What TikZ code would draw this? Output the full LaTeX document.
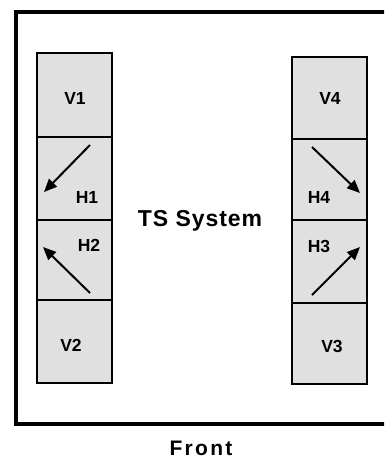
\documentclass[tikz,border=0pt]{standalone}
\usepackage{fontspec}
\setmainfont{Liberation Sans}
\usetikzlibrary{arrows.meta}
\definecolor{cellgray}{RGB}{224,224,224}
\begin{document}
\begin{tikzpicture}[x=1pt,y=-1pt,
  cell/.style={draw=black, line width=2.5pt, fill=cellgray, rectangle, inner sep=0pt, minimum width=75pt},
  lab/.style={font=\bfseries\fontsize{17.5}{20}\selectfont, inner sep=0pt, anchor=base},
  dirarrow/.style={line width=2pt, -{Triangle[length=13pt,width=11pt]}}]
\useasboundingbox (0,0) rectangle (384,459);
\clip (0,0) rectangle (384,459);
% outer frame (right side beyond the picture)
\draw[line width=4pt] (392,12) -| (16,424) -- (392,424);
% left column
\node[cell, minimum height=84pt] (v1) at (74.5,95) {};
\node[cell, minimum height=83pt] (h1) at (74.5,178.5) {};
\node[cell, minimum height=80pt] (h2) at (74.5,260) {};
\node[cell, minimum height=83pt] (v2) at (74.5,341.5) {};
% right column
\node[cell, minimum height=82pt] (v4) at (329.5,98) {};
\node[cell, minimum height=81pt] (h4) at (329.5,179.5) {};
\node[cell, minimum height=83pt] (h3) at (329.5,261.5) {};
\node[cell, minimum height=81pt] (v3) at (329.5,343.5) {};
% labels
\node[lab] (lv1) at (75,104.5) {V1};
\node[lab] (lh1) at (87,203.5) {H1};
\node[lab] (lh2) at (89,251.5) {H2};
\node[lab] (lv2) at (71,351.5) {V2};
\node[lab] (lv4) at (330,104.5) {V4};
\node[lab] (lh4) at (319,203.5) {H4};
\node[lab] (lh3) at (319,252.5) {H3};
\node[lab] (lv3) at (332,352) {V3};
% arrows
\coordinate (a1s) at (90,145); \coordinate (a1e) at (44,192);
\coordinate (a2s) at (90,293); \coordinate (a2e) at (43,247);
\coordinate (a4s) at (312,147); \coordinate (a4e) at (360,193);
\coordinate (a3s) at (312,295); \coordinate (a3e) at (360,247);
\draw[dirarrow] (a1s) -- (a1e);
\draw[dirarrow] (a2s) -- (a2e);
\draw[dirarrow] (a4s) -- (a4e);
\draw[dirarrow] (a3s) -- (a3e);
% texts
\node[font=\bfseries\fontsize{23}{26}\selectfont\addfontfeatures{LetterSpace=4}, inner sep=0pt, anchor=base] (ts) at (200,226) {TS System};
\node[font=\bfseries\fontsize{21}{24}\selectfont\addfontfeatures{LetterSpace=11}, inner sep=0pt, anchor=base] (front) at (201,455) {Front};
\end{tikzpicture}
\end{document}
